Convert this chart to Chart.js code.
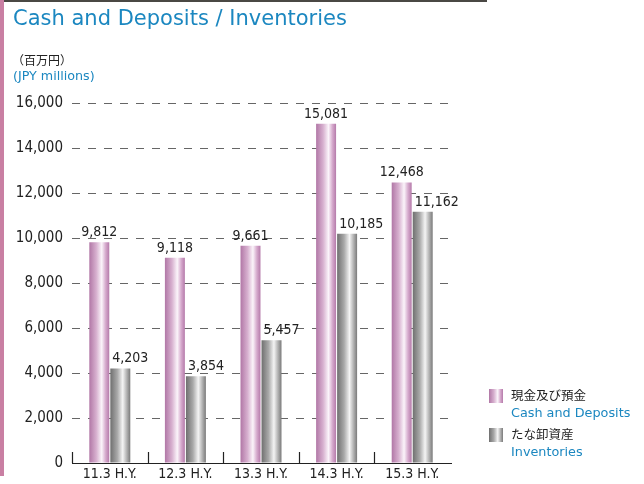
<!DOCTYPE html>
<html>
<head>
<meta charset="utf-8">
<script src="https://cdn.jsdelivr.net/npm/chart.js@4/dist/chart.umd.min.js"></script>
<style>
  html, body { margin: 0; padding: 0; background: #fff; }
  body { width: 644px; height: 484px; position: relative; overflow: hidden; font-family: "DejaVu Sans", Verdana, sans-serif; }
  .topline { position: absolute; left: 0; top: 0; width: 487px; height: 2px; background: #4a4844; }
  .sidebar { position: absolute; left: 0; top: 0; width: 4px; height: 476px; background: #c97fa3; }
  .title { position: absolute; left: 13px; top: 6px; font-size: 21px; color: #1b87c0; white-space: nowrap; }
  .unit-jp { position: absolute; left: 12px; top: 51px; font-size: 12px; color: #222; font-family: "Noto Sans CJK JP", sans-serif; }
  .unit-en { position: absolute; left: 13px; top: 68px; font-size: 12.7px; color: #1b87c0; }
  .chart-wrap { position: absolute; left: 0; top: 0; width: 644px; height: 484px; }
  .legend { position: absolute; left: 489px; top: 386px; font-size: 12.8px; }
  .legend-item { position: relative; padding-left: 22px; height: 39px; }
  .swatch { position: absolute; left: 0; top: 3px; width: 14px; height: 14px; }
  .lg-jp { color: #222; font-family: "Noto Sans CJK JP", sans-serif; font-size: 12.5px; line-height: 18px; }
  .lg-en { color: #1b87c0; line-height: 18px; }
</style>
</head>
<body>
<div class="chart-wrap"><canvas id="chart" width="644" height="484"></canvas></div>
<div class="topline"></div>
<div class="sidebar"></div>
<div class="title">Cash and Deposits / Inventories</div>
<div class="unit-jp">（百万円）</div>
<div class="unit-en">(JPY millions)</div>
<div class="legend" id="legend"></div>
<script>
const categories = ['11.3 H.Y.', '12.3 H.Y.', '13.3 H.Y.', '14.3 H.Y.', '15.3 H.Y.'];
const cashValues = [9812, 9118, 9661, 15081, 12468];
const inventoryValues = [4203, 3854, 5457, 10185, 11162];
const yTicks = [0, 2000, 4000, 6000, 8000, 10000, 12000, 14000, 16000];
const seriesNames = [
  { jp: '現金及び預金', en: 'Cash and Deposits' },
  { jp: 'たな卸資産', en: 'Inventories' }
];

const numFont = '"DejaVu Sans Condensed", "DejaVu Sans", sans-serif';
const cashStops = ['#b177a6', '#d7b0cf', '#fbf4fa', '#d5a9cc', '#b57aaa'];
const invStops = ['#6f6f6f', '#a9a9a9', '#f4f4f4', '#b3b3b3', '#7a7a7a'];

function makeGradient(ctx, x0, x1, stops) {
  const g = ctx.createLinearGradient(x0, 0, x1, 0);
  const pos = [0, 0.35, 0.62, 0.82, 1];
  stops.forEach((c, i) => g.addColorStop(pos[i], c));
  return g;
}

// each bar gets its own options copy so the gradient follows the bar
const gradientBars = {
  id: 'gradientBars',
  beforeDatasetsDraw(chart) {
    const ctx = chart.ctx;
    chart.data.datasets.forEach((ds, di) => {
      const stops = di === 0 ? cashStops : invStops;
      chart.getDatasetMeta(di).data.forEach(bar => {
        const half = bar.width / 2;
        bar.options = Object.assign({}, bar.options, {
          backgroundColor: makeGradient(ctx, bar.x - half, bar.x + half, stops)
        });
      });
    });
  }
};

const valueLabels = {
  id: 'valueLabels',
  afterDatasetsDraw(chart) {
    const ctx = chart.ctx;
    ctx.save();
    ctx.font = '14px ' + numFont;
    ctx.fillStyle = '#222';
    ctx.textBaseline = 'alphabetic';
    chart.data.datasets.forEach((ds, di) => {
      chart.getDatasetMeta(di).data.forEach((bar, i) => {
        const text = ds.data[i].toLocaleString('en-US');
        if (di === 0) {
          ctx.textAlign = 'center';
          ctx.fillText(text, bar.x, bar.y - 6);
        } else {
          ctx.textAlign = 'left';
          ctx.fillText(text, bar.x - bar.width / 2 + 2, bar.y - 6);
        }
      });
    });
    ctx.restore();
  }
};

const axisTicks = {
  id: 'axisTicks',
  afterDraw(chart) {
    const ctx = chart.ctx;
    const x = chart.scales.x;
    const bottom = chart.chartArea.bottom;
    ctx.save();
    ctx.strokeStyle = '#222';
    ctx.lineWidth = 1.2;
    ctx.beginPath();
    for (let i = 0; i < categories.length; i++) {
      const px = Math.round(x.getPixelForValue(i) - x.width / categories.length / 2) + 0.5;
      ctx.moveTo(px, bottom);
      ctx.lineTo(px, bottom - 11);
    }
    ctx.moveTo(chart.chartArea.left, bottom + 0.5);
    ctx.lineTo(chart.chartArea.right + 2, bottom + 0.5);
    ctx.stroke();
    ctx.restore();
  }
};

new Chart(document.getElementById('chart'), {
  type: 'bar',
  data: {
    labels: categories,
    datasets: [
      { label: seriesNames[0].en, data: cashValues, backgroundColor: '#c08ab6', borderWidth: 0 },
      { label: seriesNames[1].en, data: inventoryValues, backgroundColor: '#999', borderWidth: 0 }
    ]
  },
  options: {
    responsive: false,
    animation: false,
    events: [],
    categoryPercentage: 0.556,
    barPercentage: 0.95,
    layout: { padding: { top: 103, right: 194, bottom: 0, left: 0 } },
    plugins: { legend: { display: false }, tooltip: { enabled: false } },
    scales: {
      x: {
        grid: { display: false, drawTicks: false },
        border: { display: false },
        ticks: { color: '#222', font: { family: numFont, size: 14 }, padding: 3, maxRotation: 0 },
        afterFit(scale) { scale.height = 21; }
      },
      y: {
        min: 0,
        max: 16000,
        afterBuildTicks(scale) { scale.ticks = yTicks.map(v => ({ value: v })); },
        grid: {
          color: ctx => ctx.tick && ctx.tick.value === 0 ? 'rgba(0,0,0,0)' : '#666',
          lineWidth: 1,
          drawTicks: false
        },
        border: { display: false, dash: [8, 8] },
        ticks: {
          color: '#222',
          font: { family: numFont, size: 15 },
          padding: 9,
          callback: v => v.toLocaleString('en-US')
        },
        afterFit(scale) { scale.width = 72; }
      }
    }
  },
  plugins: [gradientBars, valueLabels, axisTicks]
});

const legend = document.getElementById('legend');
seriesNames.forEach((s, i) => {
  const item = document.createElement('div');
  item.className = 'legend-item';
  const sw = document.createElement('div');
  sw.className = 'swatch';
  const stops = i === 0 ? cashStops : invStops;
  sw.style.background = `linear-gradient(to right, ${stops[0]} 0%, ${stops[1]} 35%, ${stops[2]} 62%, ${stops[3]} 82%, ${stops[4]} 100%)`;
  item.append(sw);
  const jp = document.createElement('div');
  jp.className = 'lg-jp';
  jp.textContent = s.jp;
  const en = document.createElement('div');
  en.className = 'lg-en';
  en.textContent = s.en;
  item.append(jp, en);
  legend.append(item);
});
</script>
</body>
</html>
